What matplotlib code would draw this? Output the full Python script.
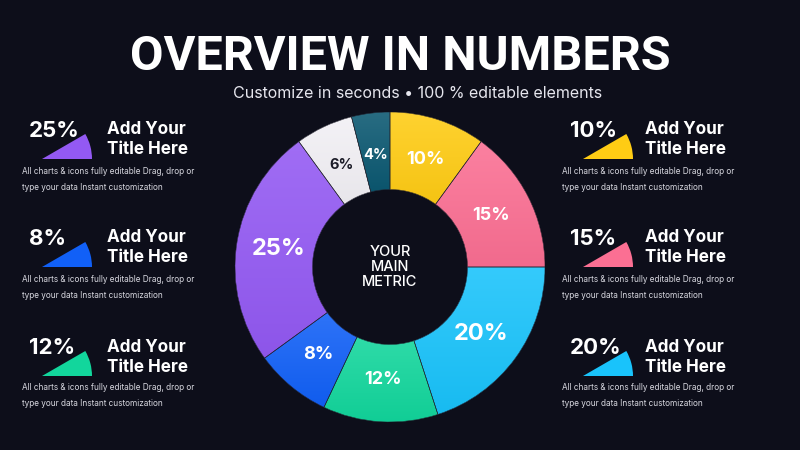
import matplotlib.pyplot as plt
import matplotlib.patches as patches
from matplotlib.colors import to_rgb
import numpy as np

# donut data, clockwise from the top
slice_values = [10, 15, 20, 12, 8, 25, 6, 4]
slice_colors = ['#ffcc14', '#fb6f93', '#19c3fb', '#12d69c',
                '#1160f7', '#9359f3', '#f2f0f5', '#0b5871']

left_values = [25, 8, 12]
right_values = [10, 15, 20]

title = 'OVERVIEW IN NUMBERS'
subtitle = 'Customize in seconds \u2022 100 % editable elements'
center_text = 'YOUR\nMAIN\nMETRIC'
item_title = ['Add Your', 'Title Here']
item_desc = ['All charts & icons fully editable Drag, drop or',
             'type your data Instant customization']

bg = '#0d0e1a'
font = 'Inter'

fig = plt.figure(figsize=(8, 4.5), dpi=100, facecolor=bg)

# main axes in pixel coordinates (y down)
ax = fig.add_axes([0, 0, 1, 1])
ax.set_xlim(0, 800)
ax.set_ylim(450, 0)
ax.axis('off')
ax.set_facecolor(bg)

ax.text(400, 57, title, ha='center', va='center', color='white',
        fontsize=35, fontweight='bold', family='Roboto')
ax.text(418, 94, subtitle, ha='center', va='center', color='#e6e6ee',
        fontsize=11.5, family=font)


def shades(c):
    base = np.array(to_rgb(c))
    return base + (1 - base) * 0.12, base * 0.96


def draw_item(x_pct, x_icon, x_title, x_desc, y0, value):
    color = slice_colors[slice_values.index(value)]
    icon = patches.Wedge((x_icon, y0 + 28), 50, -30, 0, facecolor=color,
                         edgecolor='none')
    ax.add_patch(icon)
    ax.text(x_pct, y0, f'{value}%', ha='left', va='center', color='white',
            fontsize=16, fontweight='bold', family=font)
    for i, line in enumerate(item_title):
        ax.text(x_title, y0 - 1 + i * 20, line, ha='left', va='center',
                color='white', fontsize=12.3, fontweight='bold', family=font)
    for i, line in enumerate(item_desc):
        ax.text(x_desc, y0 + 40 + i * 16, line, ha='left', va='center',
                color='#d8d8e0', fontsize=5.9, family=font)


row_y = [131, 239, 348]
for y0, v in zip(row_y, left_values):
    draw_item(29, 42, 107, 22, y0, v)
for y0, v in zip(row_y, right_values):
    draw_item(570, 583, 645, 562, y0, v)

# donut axes: center (390, 267), radius 155 px
cx, cy, r = 390, 267, 155
dax = fig.add_axes([(cx - r) / 800, (450 - cy - r) / 450, 2 * r / 800, 2 * r / 450])
wedges, _ = dax.pie(slice_values, colors=slice_colors, startangle=90,
                    counterclock=False, radius=1,
                    wedgeprops=dict(width=0.5, edgecolor='none'))

# soft vertical gradient on each slice
t = np.linspace(0, 1, 64)[:, None, None]
for w, c in zip(wedges, slice_colors):
    top, bot = shades(c)
    img = np.repeat(top * (1 - t) + bot * t, 2, axis=1)
    e = w.get_path().get_extents()
    im = dax.imshow(img, extent=(e.x0, e.x1, e.y0, e.y1), origin='upper',
                    aspect='auto', zorder=w.get_zorder() + 0.1,
                    interpolation='bilinear')
    im.set_clip_path(w)
    # thin separating line on top
    dax.add_patch(patches.Wedge(w.center, w.r, w.theta1, w.theta2, width=w.width,
                                facecolor='none', edgecolor='#20202c',
                                linewidth=0.4, zorder=w.get_zorder() + 0.2))

dax.set_xlim(-1, 1)
dax.set_ylim(-1, 1)
dax.set_aspect('equal')
dax.axis('off')

for w, v, c in zip(wedges, slice_values, slice_colors):
    ang = np.deg2rad((w.theta1 + w.theta2) / 2)
    size = 17 if v >= 20 else (13 if v >= 8 else 10.5)
    col = '#1c1c28' if c == '#f2f0f5' else 'white'
    dax.text(0.73 * np.cos(ang), 0.73 * np.sin(ang), f'{v}%', ha='center',
             va='center', color=col, fontsize=size, fontweight='bold',
             family=font, zorder=5)

dax.text(0, 0, center_text, ha='center', va='center', color='white',
         fontsize=10.5, fontweight='medium', family=font, linespacing=1.1,
         zorder=5)

fig.savefig('out.png', dpi=100, facecolor=bg)
